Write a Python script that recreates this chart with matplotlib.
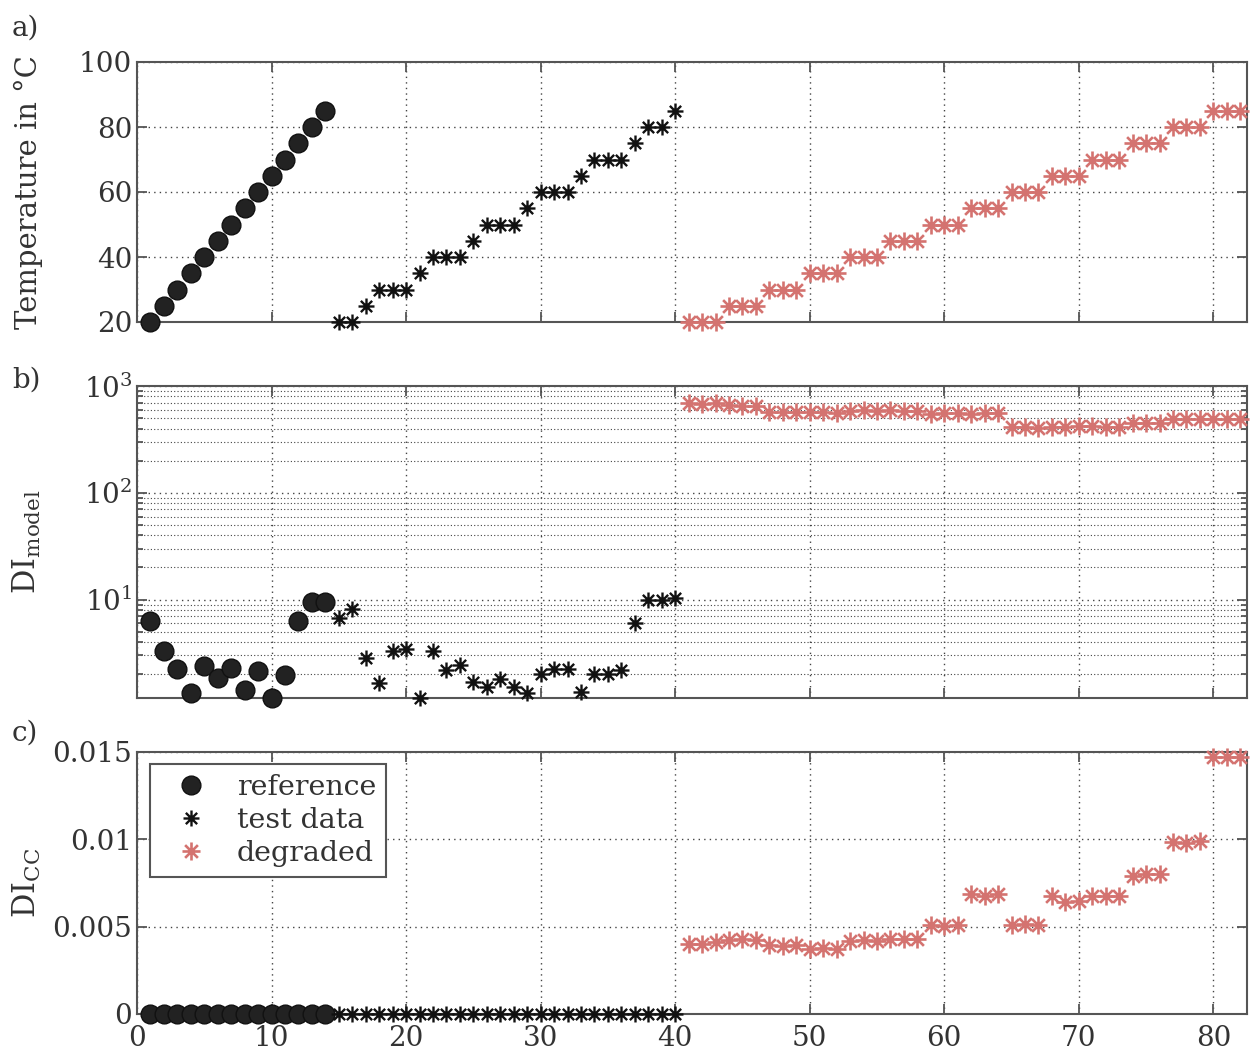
import numpy as np
import matplotlib
matplotlib.use("Agg")
import matplotlib.pyplot as plt
from matplotlib.path import Path
from matplotlib.ticker import FixedLocator, NullFormatter, LogLocator

# ---------------- data ----------------
ref_idx = list(range(1, 15))
test_idx = list(range(15, 41))
deg_idx = list(range(41, 83))

ref_temp = [20, 25, 30, 35, 40, 45, 50, 55, 60, 65, 70, 75, 80, 85]
test_temp = [20, 20, 25, 30, 30, 30, 35, 40, 40, 40, 45, 50, 50, 50, 55,
             60, 60, 60, 65, 70, 70, 70, 75, 80, 80, 85]
deg_temp = [20, 20, 20, 25, 25, 25, 30, 30, 30, 35, 35, 35, 40, 40, 40,
            45, 45, 45, 50, 50, 50, 55, 55, 55, 60, 60, 60, 65, 65, 65,
            70, 70, 70, 75, 75, 75, 80, 80, 80, 85, 85, 85]

ref_dimodel = [6.27, 3.29, 2.22, 1.34, 2.38, 1.85, 2.30, 1.44, 2.14, 1.21,
               1.99, 6.27, 9.44, 9.44]
test_dimodel = [6.74, 8.19, 2.85, 1.66, 3.29, 3.46, 1.21, 3.29, 2.19, 2.47,
                1.69, 1.53, 1.79, 1.53, 1.34, 2.03, 2.22, 2.22, 1.36, 2.03,
                2.03, 2.19, 6.05, 10.0, 9.9, 10.3]
deg_dimodel = [689, 679, 699, 660, 650, 650, 575, 567, 575, 575, 567, 555,
               588, 597, 588, 597, 588, 588, 548, 555, 563, 543, 555, 555,
               417, 417, 402, 411, 417, 423, 423, 411, 417, 448, 448, 454,
               488, 488, 488, 488, 488, 488]

ref_dicc = [0.0] * 14
test_dicc = [0.0] * 26
deg_dicc = [0.00403, 0.00403, 0.00412, 0.00426, 0.00431, 0.00422, 0.00393,
            0.00387, 0.00397, 0.00374, 0.00380, 0.00374, 0.00418, 0.00422,
            0.00418, 0.00431, 0.00431, 0.00431, 0.00508, 0.00502, 0.00508,
            0.00685, 0.00677, 0.00685, 0.00508, 0.00517, 0.00508, 0.00677,
            0.00639, 0.00647, 0.00677, 0.00677, 0.00677, 0.00788, 0.00800,
            0.00800, 0.00983, 0.00979, 0.00990, 0.01471, 0.01471, 0.01471]

xticks = [0, 10, 20, 30, 40, 50, 60, 70, 80]
temp_ticks = [20, 40, 60, 80, 100]
dicc_ticks = [0, 0.005, 0.01, 0.015]
dicc_labels = ["0", "0.005", "0.01", "0.015"]
legend_labels = ["reference", "test data", "degraded"]

# ---------------- style ----------------
plt.rcParams['font.family'] = ['DejaVu Serif']
plt.rcParams['mathtext.fontset'] = 'dejavuserif'
TXT = '#333333'
EDGE = '#555555'
RED = '#d47370'
GRIDC = '#444444'

d = 0.7071
ast = Path([(-1, 0), (1, 0), (0, -1), (0, 1), (-d, -d), (d, d), (-d, d), (d, -d)],
           [Path.MOVETO, Path.LINETO] * 4)

fig = plt.figure(figsize=(12.51, 10.59), dpi=100)
W, H = 1251, 1059
left, right = 137, 1247


def make_ax(top, bottom):
    return fig.add_axes([left / W, 1 - bottom / H, (right - left) / W, (bottom - top) / H])


axa = make_ax(62, 322)
axb = make_ax(386, 698)
axc = make_ax(752, 1014)

ref_kw = dict(ls='none', marker='o', ms=13.5, mfc='#222222', mec='#111111', mew=1.0,
              clip_on=False, zorder=3)
test_kw = dict(ls='none', marker=ast, ms=11.5, mfc='none', mec='#111111', mew=1.7,
               clip_on=False, zorder=3)
deg_kw = dict(ls='none', marker=ast, ms=13, mfc='none', mec=RED, mew=1.9,
              clip_on=False, zorder=3)

for ax, yr, yt, yd in [(axa, ref_temp, test_temp, deg_temp),
                       (axb, ref_dimodel, test_dimodel, deg_dimodel),
                       (axc, ref_dicc, test_dicc, deg_dicc)]:
    l1, = ax.plot(ref_idx, yr, **ref_kw)
    l2, = ax.plot(test_idx, yt, **test_kw)
    l3, = ax.plot(deg_idx, yd, **deg_kw)
    ax.set_xlim(0, 82.5)
    ax.set_xticks(xticks)
    ax.tick_params(axis='both', which='both', direction='in', top=True, right=True,
                   colors=EDGE, labelcolor=TXT, labelsize=20, length=7, width=1.3)
    ax.tick_params(axis='both', which='minor', length=4)
    for s in ax.spines.values():
        s.set_color(EDGE)
        s.set_linewidth(1.5)
    ax.grid(True, which='major', color=GRIDC, ls=(0, (1, 3)), lw=1.0)
    ax.set_axisbelow(True)

# panel a
axa.set_ylim(20, 100)
axa.set_yticks(temp_ticks)
axa.set_xticklabels([])
axa.set_ylabel("Temperature in °C", fontsize=21, color=TXT)

# panel b
axb.set_yscale('log')
axb.set_ylim(1.2, 1000)
axb.yaxis.set_major_locator(FixedLocator([10, 100, 1000]))
axb.yaxis.set_minor_locator(LogLocator(base=10, subs=np.arange(2, 10)))
axb.yaxis.set_minor_formatter(NullFormatter())
axb.grid(True, which='minor', axis='y', color=GRIDC, ls=(0, (1, 2)), lw=0.8)
axb.set_xticklabels([])
axb.set_ylabel(r"DI$_{\mathrm{model}}$", fontsize=22, color=TXT)

# panel c
axc.set_ylim(0, 0.015)
axc.set_yticks(dicc_ticks)
axc.set_yticklabels(dicc_labels)
axc.set_xticklabels([str(v) for v in xticks])
axc.tick_params(axis='x', pad=8)
axc.set_ylabel(r"DI$_{\mathrm{CC}}$", fontsize=22, color=TXT)

leg = axc.legend([l1, l2, l3], legend_labels, loc='upper left',
                 bbox_to_anchor=(0.0117, 0.955), borderaxespad=0, fontsize=20.5,
                 frameon=True, fancybox=False, handlelength=2.2, handletextpad=0.5,
                 labelspacing=0.22, borderpad=0.35, labelcolor=TXT)
leg.get_frame().set_edgecolor(EDGE)
leg.get_frame().set_linewidth(1.5)
leg.get_frame().set_alpha(1)

for txt, y in [("a)", 28), ("b)", 380), ("c)", 733)]:
    fig.text(12 / W, 1 - y / H, txt, fontsize=20, color=TXT, va='center', ha='left')

# align ylabels
for ax in (axa, axb, axc):
    ax.yaxis.set_label_coords(-0.085, 0.5)

fig.savefig("out.png", dpi=100)
